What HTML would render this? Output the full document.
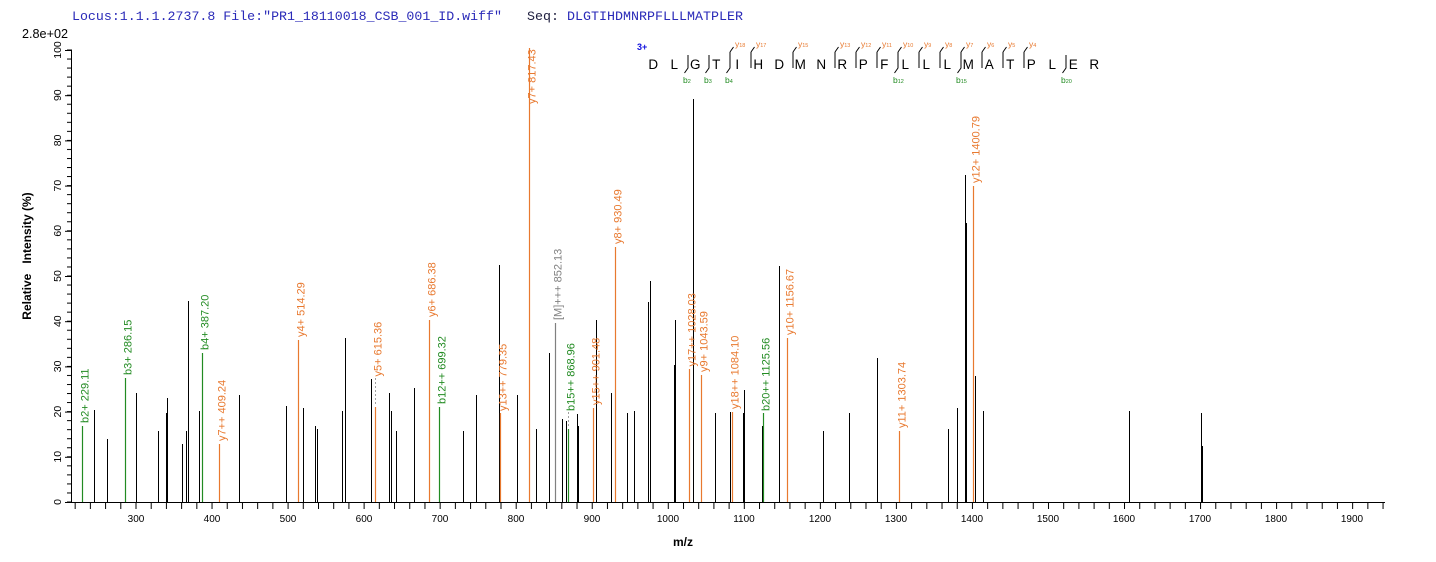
<!DOCTYPE html>
<html><head><meta charset="utf-8"><style>
html,body{margin:0;padding:0;background:#fff;}
svg{display:block;}
text{font-family:"Liberation Sans",Arial,sans-serif;}
</style></head><body>
<svg width="1436" height="562" viewBox="0 0 1436 562" xmlns="http://www.w3.org/2000/svg">
<defs>
<pattern id="xt" patternUnits="userSpaceOnUse" x="135.5" y="0" width="15.208" height="20"><rect x="0" y="0" width="1" height="20" fill="#000"/></pattern>
<pattern id="yt" patternUnits="userSpaceOnUse" x="0" y="501.5" width="20" height="9.04"><rect x="0" y="0" width="20" height="1" fill="#000"/></pattern>
</defs>
<rect width="1436" height="562" fill="#fff"/>
<!-- header -->
<text x="72" y="20" font-size="13" fill="#2a2ab8" textLength="430" lengthAdjust="spacingAndGlyphs" style="font-family:'Liberation Mono',monospace">Locus:1.1.1.2737.8 File:"PR1_18110018_CSB_001_ID.wiff"</text>
<text x="527" y="20" font-size="13" fill="#202040" textLength="32" lengthAdjust="spacingAndGlyphs" style="font-family:'Liberation Mono',monospace">Seq:</text>
<text x="567" y="20" font-size="13" fill="#2a2ab8" textLength="176" lengthAdjust="spacingAndGlyphs" style="font-family:'Liberation Mono',monospace">DLGTIHDMNRPFLLLMATPLER</text>
<text x="22" y="38" font-size="12.5" fill="#000" textLength="46" lengthAdjust="spacingAndGlyphs">2.8e+02</text>

<!-- axes -->
<line x1="71.5" y1="49.5" x2="71.5" y2="502.5" stroke="#000" stroke-width="1"/>
<line x1="71" y1="502.5" x2="1385" y2="502.5" stroke="#000" stroke-width="1"/>
<rect x="72" y="503" width="1313" height="6" fill="url(#xt)"/>
<rect x="67" y="49" width="4" height="454" fill="url(#yt)"/>
<g stroke="#000" stroke-width="1">
<line x1="65" y1="502.5" x2="71" y2="502.5"/>
<line x1="65" y1="457.3" x2="71" y2="457.3"/>
<line x1="65" y1="412.1" x2="71" y2="412.1"/>
<line x1="65" y1="366.9" x2="71" y2="366.9"/>
<line x1="65" y1="321.7" x2="71" y2="321.7"/>
<line x1="65" y1="276.5" x2="71" y2="276.5"/>
<line x1="65" y1="231.3" x2="71" y2="231.3"/>
<line x1="65" y1="186.1" x2="71" y2="186.1"/>
<line x1="65" y1="140.9" x2="71" y2="140.9"/>
<line x1="65" y1="95.7" x2="71" y2="95.7"/>
<line x1="65" y1="50.5" x2="71" y2="50.5"/>
</g>
<g font-size="10.5" fill="#000" text-anchor="middle">
<text transform="translate(61,502) rotate(-90)">0</text>
<text transform="translate(61,456.8) rotate(-90)">10</text>
<text transform="translate(61,411.6) rotate(-90)">20</text>
<text transform="translate(61,366.4) rotate(-90)">30</text>
<text transform="translate(61,321.2) rotate(-90)">40</text>
<text transform="translate(61,276) rotate(-90)">50</text>
<text transform="translate(61,230.8) rotate(-90)">60</text>
<text transform="translate(61,185.6) rotate(-90)">70</text>
<text transform="translate(61,140.4) rotate(-90)">80</text>
<text transform="translate(61,95.2) rotate(-90)">90</text>
<text transform="translate(61,50) rotate(-90)">100</text>
</g>
<g font-size="10" fill="#000" text-anchor="middle">
<text x="136" y="522">300</text>
<text x="212" y="522">400</text>
<text x="288" y="522">500</text>
<text x="364" y="522">600</text>
<text x="440" y="522">700</text>
<text x="516" y="522">800</text>
<text x="592" y="522">900</text>
<text x="668" y="522">1000</text>
<text x="744" y="522">1100</text>
<text x="820" y="522">1200</text>
<text x="896" y="522">1300</text>
<text x="972" y="522">1400</text>
<text x="1048" y="522">1500</text>
<text x="1124" y="522">1600</text>
<text x="1200" y="522">1700</text>
<text x="1276" y="522">1800</text>
<text x="1352" y="522">1900</text>
</g>
<text x="683" y="546" font-size="12" font-weight="bold" text-anchor="middle" fill="#000">m/z</text>
<text transform="translate(31,256) rotate(-90)" font-size="12" font-weight="bold" text-anchor="middle" fill="#000" xml:space="preserve">Relative   Intensity (%)</text>

<!-- black peaks -->
<path stroke="#000" stroke-width="1" fill="none" d="
M94.5 502V410 M107.5 502V439 M136.5 502V393 M158.5 502V431 M166.5 502V413 M167.5 502V398
M182.5 502V444 M186.5 502V431 M188.5 502V301 M199.5 502V411 M239.5 502V395 M286.5 502V406
M303.5 502V408 M315.5 502V426 M317.5 502V429 M342.5 502V411 M345.5 502V338 M371.5 502V379
M389.5 502V393 M391.5 502V411 M396.5 502V431 M414.5 502V388 M463.5 502V431 M476.5 502V395
M499.5 502V265 M517.5 502V395 M536.5 502V429 M549.5 502V353 M562.5 502V419 M566.5 502V421
M577.5 502V414 M578.5 502V426 M596.5 502V320 M611.5 502V393 M627.5 502V413 M634.5 502V411
M648.5 502V302 M650.5 502V281 M674.5 502V365 M675.5 502V320 M693.5 502V99 M715.5 502V413
M730.5 502V412 M743.5 502V413 M744.5 502V390 M762.5 502V426 M779.5 502V266 M823.5 502V431
M849.5 502V413 M877.5 502V358 M948.5 502V429 M957.5 502V408 M965.5 502V175 M966.5 502V223
M975.5 502V376 M983.5 502V411 M1129.5 502V411 M1201.5 502V413 M1202.5 502V446"/>

<!-- green peaks -->
<g stroke="#228b22" stroke-width="1.2">
<line x1="82.5" y1="502" x2="82.5" y2="426"/>
<line x1="125.5" y1="502" x2="125.5" y2="378"/>
<line x1="202.5" y1="502" x2="202.5" y2="353"/>
<line x1="439.5" y1="502" x2="439.5" y2="407"/>
<line x1="568.5" y1="502" x2="568.5" y2="429"/>
<line x1="763.5" y1="502" x2="763.5" y2="413"/>
</g>
<!-- orange peaks -->
<g stroke="#e8792f" stroke-width="1.2">
<line x1="219.5" y1="502" x2="219.5" y2="444"/>
<line x1="298.5" y1="502" x2="298.5" y2="340"/>
<line x1="375.5" y1="502" x2="375.5" y2="407"/>
<line x1="429.5" y1="502" x2="429.5" y2="320"/>
<line x1="500.5" y1="502" x2="500.5" y2="413"/>
<line x1="529.5" y1="502" x2="529.5" y2="48"/>
<line x1="593.5" y1="502" x2="593.5" y2="408"/>
<line x1="615.5" y1="502" x2="615.5" y2="247"/>
<line x1="689.5" y1="502" x2="689.5" y2="369"/>
<line x1="701.5" y1="502" x2="701.5" y2="375"/>
<line x1="732.5" y1="502" x2="732.5" y2="412"/>
<line x1="787.5" y1="502" x2="787.5" y2="338"/>
<line x1="899.5" y1="502" x2="899.5" y2="431"/>
<line x1="973.5" y1="502" x2="973.5" y2="186"/>
</g>
<line x1="555.5" y1="502" x2="555.5" y2="323" stroke="#808080" stroke-width="1.2"/>
<!-- dashed connectors -->
<g stroke="#a0a0a0" stroke-width="1" stroke-dasharray="2,2">
<line x1="375.5" y1="378" x2="375.5" y2="406"/>
<line x1="568.5" y1="412" x2="568.5" y2="428"/>
</g>

<!-- peak labels -->
<g font-size="11" fill="#228b22">
<text transform="translate(88.5,423) rotate(-90)">b2+ 229.11</text>
<text transform="translate(131.5,375) rotate(-90)">b3+ 286.15</text>
<text transform="translate(208.5,350) rotate(-90)">b4+ 387.20</text>
<text transform="translate(445.5,404) rotate(-90)">b12++ 699.32</text>
<text transform="translate(574.5,411) rotate(-90)">b15++ 868.96</text>
<text transform="translate(769.5,411) rotate(-90)">b20++ 1125.56</text>
</g>
<g font-size="11" fill="#e8792f">
<text transform="translate(225.5,441) rotate(-90)">y7++ 409.24</text>
<text transform="translate(304.5,337) rotate(-90)">y4+ 514.29</text>
<text transform="translate(381.5,376.5) rotate(-90)">y5+ 615.36</text>
<text transform="translate(435.5,317) rotate(-90)">y6+ 686.38</text>
<text transform="translate(506.5,411) rotate(-90)">y13++ 779.35</text>
<text transform="translate(535.5,104) rotate(-90)">y7+ 817.43</text>
<text transform="translate(599.5,405) rotate(-90)">y15++ 901.48</text>
<text transform="translate(621.5,244) rotate(-90)">y8+ 930.49</text>
<text transform="translate(695.5,366.5) rotate(-90)">y17++ 1028.03</text>
<text transform="translate(707.5,372) rotate(-90)">y9+ 1043.59</text>
<text transform="translate(738.5,409) rotate(-90)">y18++ 1084.10</text>
<text transform="translate(793.5,335) rotate(-90)">y10+ 1156.67</text>
<text transform="translate(905.5,428) rotate(-90)">y11+ 1303.74</text>
<text transform="translate(979.5,183) rotate(-90)">y12+ 1400.79</text>
</g>
<text transform="translate(561.5,320) rotate(-90)" font-size="11" fill="#808080">[M]+++ 852.13</text>

<!-- sequence annotation -->
<text x="637" y="50" font-size="9" font-weight="bold" fill="#1010dd">3+</text>
<g font-size="13.5" fill="#000" text-anchor="middle">
<text x="653.3" y="69">D</text><text x="674.3" y="69">L</text><text x="695.3" y="69">G</text><text x="716.3" y="69">T</text>
<text x="737.3" y="69">I</text><text x="758.3" y="69">H</text><text x="779.3" y="69">D</text><text x="800.3" y="69">M</text>
<text x="821.3" y="69">N</text><text x="842.3" y="69">R</text><text x="863.3" y="69">P</text><text x="884.3" y="69">F</text>
<text x="905.3" y="69">L</text><text x="926.3" y="69">L</text><text x="947.3" y="69">L</text><text x="968.3" y="69">M</text>
<text x="989.3" y="69">A</text><text x="1010.3" y="69">T</text><text x="1031.3" y="69">P</text><text x="1052.3" y="69">L</text>
<text x="1073.3" y="69">E</text><text x="1094.3" y="69">R</text>
</g>
<g stroke="#000" stroke-width="1" fill="none">
<path d="M688 55V68L684.5 73"/>
<path d="M709 55V68L705.5 73"/>
<path d="M730 52L733.5 47 M730 52V68L726.5 73"/>
<path d="M751 52L754.5 47 M751 52V68"/>
<path d="M793 52L796.5 47 M793 52V68"/>
<path d="M835 52L838.5 47 M835 52V68"/>
<path d="M856 52L859.5 47 M856 52V68"/>
<path d="M877 52L880.5 47 M877 52V68"/>
<path d="M898 52L901.5 47 M898 52V68L894.5 73"/>
<path d="M919 52L922.5 47 M919 52V68"/>
<path d="M940 52L943.5 47 M940 52V68"/>
<path d="M961 52L964.5 47 M961 52V68L957.5 73"/>
<path d="M982 52L985.5 47 M982 52V68"/>
<path d="M1003 52L1006.5 47 M1003 52V68"/>
<path d="M1024 52L1027.5 47 M1024 52V68"/>
<path d="M1066 55V68L1062.5 73"/>
</g>
<g fill="#e8792f" font-size="8.5">
<text x="735" y="47">y<tspan font-size="5.5">18</tspan></text>
<text x="756" y="47">y<tspan font-size="5.5">17</tspan></text>
<text x="798" y="47">y<tspan font-size="5.5">15</tspan></text>
<text x="840" y="47">y<tspan font-size="5.5">13</tspan></text>
<text x="861" y="47">y<tspan font-size="5.5">12</tspan></text>
<text x="882" y="47">y<tspan font-size="5.5">11</tspan></text>
<text x="903" y="47">y<tspan font-size="5.5">10</tspan></text>
<text x="924" y="47">y<tspan font-size="5.5">9</tspan></text>
<text x="945" y="47">y<tspan font-size="5.5">8</tspan></text>
<text x="966" y="47">y<tspan font-size="5.5">7</tspan></text>
<text x="987" y="47">y<tspan font-size="5.5">6</tspan></text>
<text x="1008" y="47">y<tspan font-size="5.5">5</tspan></text>
<text x="1029" y="47">y<tspan font-size="5.5">4</tspan></text>
</g>
<g fill="#228b22" font-size="8.5">
<text x="683" y="83">b<tspan font-size="5.5">2</tspan></text>
<text x="704" y="83">b<tspan font-size="5.5">3</tspan></text>
<text x="725" y="83">b<tspan font-size="5.5">4</tspan></text>
<text x="893" y="83">b<tspan font-size="5.5">12</tspan></text>
<text x="956" y="83">b<tspan font-size="5.5">15</tspan></text>
<text x="1061" y="83">b<tspan font-size="5.5">20</tspan></text>
</g>
</svg>
</body></html>
